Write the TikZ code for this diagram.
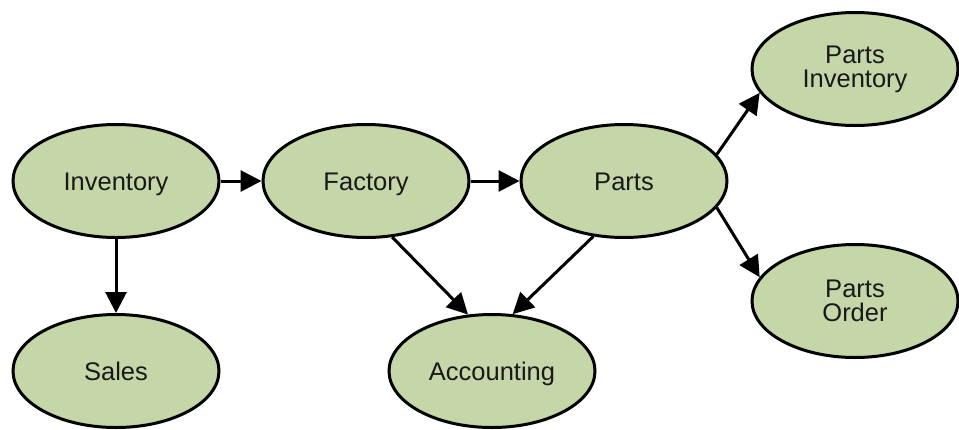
\documentclass[tikz,border=0pt]{standalone}
\usepackage{fontspec}
\setmainfont{Liberation Sans}
\usetikzlibrary{shapes.geometric,arrows.meta}
\definecolor{nodegreen}{RGB}{197,215,168}
\begin{document}
\begin{tikzpicture}[x=1pt,y=-1pt,
  ell/.style={ellipse,draw=black,line width=3pt,fill=nodegreen,
    minimum width=206pt,minimum height=113pt,inner sep=0pt,
    font=\fontsize{25.5}{24}\selectfont,align=center,text=black!90},
  oneline/.style={text height=18.3pt,text depth=0pt},
  conn/.style={line width=3pt,-{Triangle[length=21pt,width=21pt]}}]
\useasboundingbox (0,0) rectangle (959,429);
\node[ell,oneline] (inv) at (116,181) {Inventory};
\node[ell,oneline] (fac) at (366,181) {Factory};
\node[ell,oneline] (parts) at (624,181) {Parts};
\node[ell] (pinv) at (855,69) {Parts\\Inventory};
\node[ell] (pord) at (855,301) {Parts\\Order};
\node[ell,oneline] (sales) at (116,371) {Sales};
\node[ell,oneline] (acc) at (492,371) {Accounting};
\draw[conn] (inv) -- (fac);
\draw[conn] (fac) -- (parts);
\draw[conn] (inv) -- (sales);
\draw[conn] (fac.-65) -- (acc.113);
\draw[conn] (parts.-119) -- (acc.70);
\draw[conn] (parts.16) -- (pinv.-166);
\draw[conn] (parts.-16) -- (pord.166);
\end{tikzpicture}
\end{document}
